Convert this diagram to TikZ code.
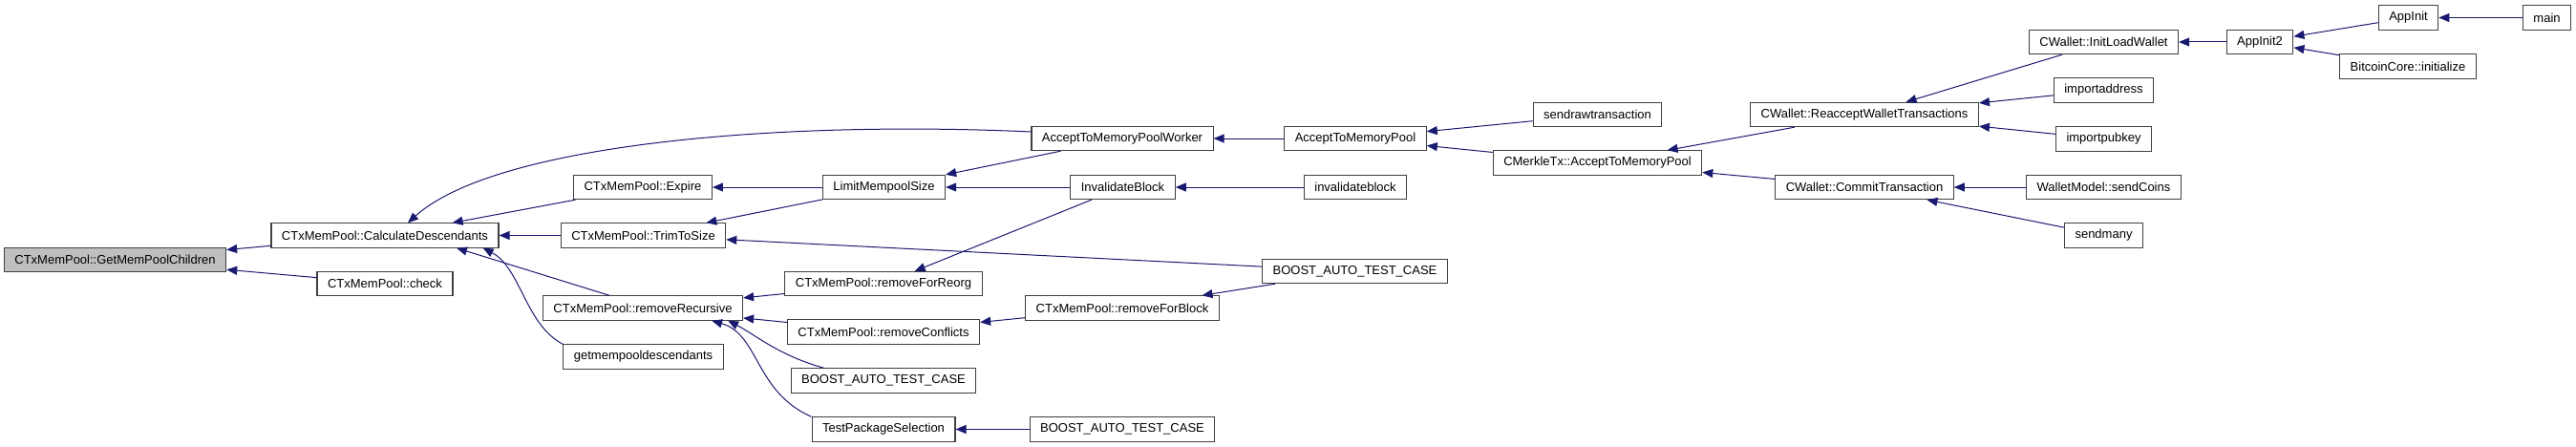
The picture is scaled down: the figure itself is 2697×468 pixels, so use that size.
\documentclass[tikz,border=0pt]{standalone}
\usepackage{fontspec}
\setmainfont{Liberation Sans}
\usetikzlibrary{arrows.meta, positioning}
\definecolor{edgeblue}{RGB}{25, 25, 112}
\definecolor{rootgray}{RGB}{191, 191, 191}

\begin{document}
\begin{tikzpicture}[
    x=1pt, y=-1pt,
    fn/.style={rectangle, draw=black!75, line width=1.1pt, fill=white, minimum height=25.3pt, inner xsep=11pt, inner ysep=0pt, font=\fontsize{13}{15}\selectfont},
    root/.style={fn, fill=rootgray},
    call/.style={-{Triangle[length=11pt, width=9pt]}, draw=edgeblue, line width=1pt}
]
\useasboundingbox (0,0) rectangle (2697,468);

\node[root] (gmpc) at (120.5,272) {CTxMemPool::GetMemPoolChildren};
\node[fn] (cd) at (403,246.5) {CTxMemPool::CalculateDescendants};
\node[fn] (check) at (403,297) {CTxMemPool::check};
\node[fn] (expire) at (673,196) {CTxMemPool::Expire};
\node[fn] (tts) at (673.5,246.5) {CTxMemPool::TrimToSize};
\node[fn] (rr) at (673,322.5) {CTxMemPool::removeRecursive};
\node[fn] (gmd) at (673.5,373.5) {getmempooldescendants};
\node[fn] (atmpw) at (1175,145) {AcceptToMemoryPoolWorker};
\node[fn] (lms) at (925.5,196) {LimitMempoolSize};
\node[fn] (rfr) at (925,297) {CTxMemPool::removeForReorg};
\node[fn] (rc) at (925,347.5) {CTxMemPool::removeConflicts};
\node[fn] (btc) at (925,398.5) {BOOST\_AUTO\_TEST\_CASE};
\node[fn] (tps) at (925,449.5) {TestPackageSelection};
\node[fn] (atmp) at (1419,145) {AcceptToMemoryPool};
\node[fn] (ib) at (1175.5,196) {InvalidateBlock};
\node[fn] (rfb) at (1175,322.5) {CTxMemPool::removeForBlock};
\node[fn] (btd) at (1175,449.5) {BOOST\_AUTO\_TEST\_CASE};
\node[fn] (invb) at (1419,196) {invalidateblock};
\node[fn] (btb) at (1418.5,284) {BOOST\_AUTO\_TEST\_CASE};
\node[fn] (srt) at (1672.5,120) {sendrawtransaction};
\node[fn] (cm) at (1672.5,170.5) {CMerkleTx::AcceptToMemoryPool};
\node[fn] (rw) at (1952,120) {CWallet::ReacceptWalletTransactions};
\node[fn] (ct) at (1952,196) {CWallet::CommitTransaction};
\node[fn] (ilw) at (2202.5,44) {CWallet::InitLoadWallet};
\node[fn] (ia) at (2202.5,94.5) {importaddress};
\node[fn] (ipk) at (2202.5,145.5) {importpubkey};
\node[fn] (sc) at (2202.5,196) {WalletModel::sendCoins};
\node[fn] (sm) at (2202.5,246.5) {sendmany};
\node[fn] (ai2) at (2366,44) {AppInit2};
\node[fn] (ai) at (2521.5,18.5) {AppInit};
\node[fn] (bci) at (2521,69.5) {BitcoinCore::initialize};
\node[fn] (main) at (2666.5,18.5) {main};

\draw[call] (cd) -- (gmpc);
\draw[call] (check) -- (gmpc);
\draw[call] ([yshift=7pt]atmpw.west) .. controls (820,126) and (520,150) .. ([xshift=24pt]cd.north);
\draw[call] (expire) -- (cd);
\draw[call] (tts) -- (cd);
\draw[call] ([xshift=-35pt]rr.north) -- ([xshift=75pt]cd.south);
\draw[call] (gmd.north west) .. controls (550,340) and (545,280) .. ([xshift=-17pt]cd.south east);
\draw[call] (lms) -- (expire);
\draw[call] (lms) -- (tts);
\draw[call] (btb) -- (tts);
\draw[call] (rfr) -- (rr);
\draw[call] (rc) -- (rr);
\draw[call] ([xshift=35pt]btc.north west) .. controls (815,372) and (790,350) .. ([xshift=-16pt]rr.south east);
\draw[call] (tps.north west) .. controls (790,410) and (795,350) .. ([xshift=-33pt]rr.south east);
\draw[call] (atmpw) -- (lms);
\draw[call] (ib) -- (lms);
\draw[call] (ib) -- (rfr);
\draw[call] (rfb) -- (rc);
\draw[call] (btb) -- (rfb);
\draw[call] (btd) -- (tps);
\draw[call] (atmp) -- (atmpw);
\draw[call] (invb) -- (ib);
\draw[call] (srt) -- (atmp);
\draw[call] (cm) -- (atmp);
\draw[call] (rw) -- (cm);
\draw[call] (ct) -- (cm);
\draw[call] (ilw) -- (rw);
\draw[call] (ia) -- (rw);
\draw[call] (ipk) -- (rw);
\draw[call] (sc) -- (ct);
\draw[call] (sm) -- (ct);
\draw[call] (ai2) -- (ilw);
\draw[call] (ai) -- (ai2);
\draw[call] (bci) -- (ai2);
\draw[call] (main) -- (ai);

\end{tikzpicture}
\end{document}
